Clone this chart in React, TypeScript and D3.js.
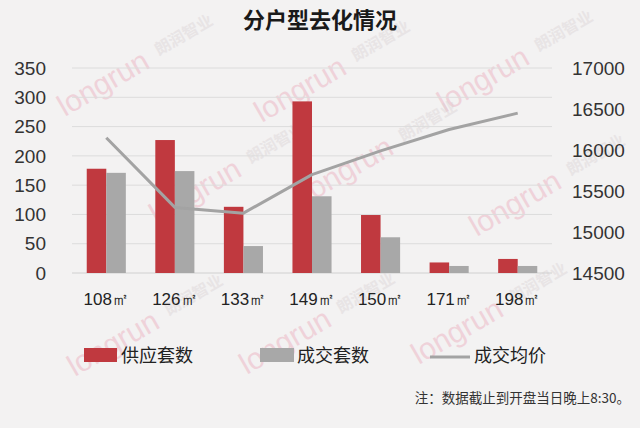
import React from "react";
import * as d3 from "d3";

const categories = ["108㎡", "126㎡", "133㎡", "149㎡", "150㎡", "171㎡", "198㎡"];
const supplyUnits = [178, 227, 113, 293, 99, 18, 24];
const soldUnits = [171, 174, 46, 131, 61, 12, 12];
const avgPrice = [16150, 15300, 15230, 15700, 15990, 16250, 16450];
const leftTicks = [0, 50, 100, 150, 200, 250, 300, 350];
const rightTicks = [14500, 15000, 15500, 16000, 16500, 17000];
const seriesNames = ["供应套数", "成交套数", "成交均价"];
const title = "分户型去化情况";
const note = "注：数据截止到开盘当日晚上8:30。";

const W = 640;
const H = 428;
const RED = "#c0393f";
const GRAY = "#a8a8a8";
const LINE = "#a3a3a3";
const CJK = "'Noto Sans CJK SC', 'Noto Sans', sans-serif";
const NUM = "'Liberation Sans', 'Noto Sans', sans-serif";

const watermarks = [
  { x: 108, y: 92 },
  { x: 305, y: 98 },
  { x: 488, y: 88 },
  { x: 200, y: 200 },
  { x: 352, y: 178 },
  { x: 520, y: 212 },
  { x: 118, y: 352 },
  { x: 290, y: 350 },
  { x: 462, y: 340 },
];

export default function App() {
  const x0 = d3
    .scaleBand<string>()
    .domain(categories)
    .range([72, 552])
    .paddingInner(0.43)
    .paddingOuter(0.215);
  const x1 = d3
    .scaleBand<string>()
    .domain(["supply", "sold"])
    .range([0, x0.bandwidth()])
    .padding(0);
  const yL = d3.scaleLinear().domain([0, 350]).range([273, 68]);
  const yR = d3.scaleLinear().domain([14500, 17000]).range([273, 68]);

  const line = d3
    .line<number>()
    .x((_, i) => (x0(categories[i]) as number) + x0.bandwidth() / 2)
    .y((d) => yR(d));

  return (
    <svg
      width={W}
      height={H}
      style={{ position: "absolute", left: 0, top: 0, display: "block" }}
    >
      <rect x={0} y={0} width={W} height={H} fill="#f3f2f2" />

      {/* watermarks */}
      {watermarks.map((w, i) => (
        <g key={"wm" + i} transform={`translate(${w.x},${w.y}) rotate(-30)`} opacity={0.4}>
          <text
            x={0}
            y={0}
            textAnchor="middle"
            fontFamily={NUM}
            fontSize={30}
            fill="#eaa3b6"
          >
            longrun
          </text>
          <text
            x={62}
            y={-6}
            textAnchor="start"
            fontFamily={CJK}
            fontSize={16}
            fontWeight="bold"
            fill="#d8d0d2"
          >
            朗润智业
          </text>
        </g>
      ))}

      {/* title */}
      <text
        x={320}
        y={20}
        dy="0.35em"
        textAnchor="middle"
        fontFamily={CJK}
        fontWeight="bold"
        fontSize={22}
        fill="#1a1a1a"
      >
        {title}
      </text>

      {/* gridlines */}
      {leftTicks.map((t) => (
        <line
          key={"g" + t}
          x1={72}
          x2={552}
          y1={yL(t)}
          y2={yL(t)}
          stroke={t === 0 ? "#d0d0d0" : "#dcdcdc"}
          strokeWidth={1}
        />
      ))}

      {/* left ticks */}
      {leftTicks.map((t) => (
        <text
          key={"l" + t}
          x={46}
          y={yL(t)}
          dy="0.35em"
          textAnchor="end"
          fontFamily={NUM}
          fontSize={19}
          fill="#333"
        >
          {t}
        </text>
      ))}

      {/* right ticks */}
      {rightTicks.map((t) => (
        <text
          key={"r" + t}
          x={572}
          y={yR(t)}
          dy="0.35em"
          textAnchor="start"
          fontFamily={NUM}
          fontSize={19}
          fill="#333"
        >
          {t}
        </text>
      ))}

      {/* bars */}
      {categories.map((c, i) => {
        const bx = x0(c) as number;
        return (
          <g key={"b" + c}>
            <rect
              x={bx + (x1("supply") as number)}
              y={yL(supplyUnits[i])}
              width={x1.bandwidth()}
              height={yL(0) - yL(supplyUnits[i])}
              fill={RED}
            />
            <rect
              x={bx + (x1("sold") as number)}
              y={yL(soldUnits[i])}
              width={x1.bandwidth()}
              height={yL(0) - yL(soldUnits[i])}
              fill={GRAY}
            />
          </g>
        );
      })}

      {/* line */}
      <path
        d={line(avgPrice) || ""}
        fill="none"
        stroke={LINE}
        strokeWidth={3}
        strokeLinejoin="round"
      />

      {/* x labels */}
      {categories.map((c) => (
        <text
          key={"x" + c}
          x={(x0(c) as number) + x0.bandwidth() / 2}
          y={299}
          dy="0.35em"
          textAnchor="middle"
          fontFamily={NUM}
          fontSize={17}
          fill="#222"
        >
          {c}
        </text>
      ))}

      {/* legend */}
      <rect x={84} y={348} width={33} height={14} fill={RED} />
      <text x={121} y={356} dy="0.35em" fontFamily={CJK} fontSize={18} fill="#222">
        {seriesNames[0]}
      </text>
      <rect x={260} y={348} width={34} height={14} fill={GRAY} />
      <text x={297} y={356} dy="0.35em" fontFamily={CJK} fontSize={18} fill="#222">
        {seriesNames[1]}
      </text>
      <line x1={430} x2={470} y1={357} y2={357} stroke={LINE} strokeWidth={3} />
      <text x={474} y={356} dy="0.35em" fontFamily={CJK} fontSize={18} fill="#222">
        {seriesNames[2]}
      </text>

      {/* note */}
      <text
        x={630}
        y={398}
        dy="0.35em"
        textAnchor="end"
        fontFamily={CJK}
        fontSize={13.5}
        fill="#333"
      >
        {note}
      </text>
    </svg>
  );
}
